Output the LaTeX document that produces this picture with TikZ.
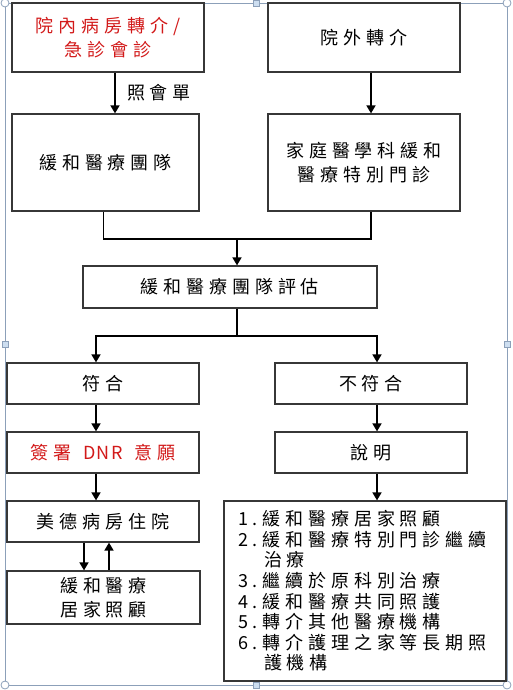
\documentclass[tikz,border=0pt]{standalone}
\usepackage{fontspec}
\newfontfamily\cjkfont[LetterSpace=27]{Noto Sans CJK TC}
\usetikzlibrary{arrows.meta}
\definecolor{framegray}{RGB}{140,160,185}
\definecolor{handleblue}{RGB}{205,222,240}
\definecolor{flowred}{RGB}{210,25,25}
\definecolor{boxgray}{RGB}{55,55,55}

\begin{document}
\begin{tikzpicture}[x=1pt,y=-1pt,
  flowbox/.style={draw=boxgray,line width=1.2pt,inner sep=0pt,align=center,
    font=\cjkfont\fontsize{18}{24}\selectfont},
  flowarrow/.style={line width=1.6pt,-{Triangle[length=8pt,width=9pt]}},
  flowline/.style={line width=1.6pt},
  handle/.style={draw=framegray,fill=white,line width=0.8pt}]
  \useasboundingbox (0,0) rectangle (513,690);

  % outer frame with its handles
  \draw[framegray,line width=0.8pt] (5,3) rectangle (507,685);
  \foreach \hx/\hy in {5/3,507/3,5/685,507/685}
    \draw[handle] (\hx,\hy) circle (4);
  \foreach \hx/\hy in {256/3,5/344,507/344,256/685}
    \draw[handle,fill=handleblue] (\hx-3,\hy-3) rectangle (\hx+3,\hy+3);

  % referral sources
  \node[flowbox,text=flowred,minimum width=192,minimum height=69] (inref) at (108,37.5)
    {院內病房轉介/\\急診會診};
  \node[flowbox,minimum width=192,minimum height=69] (outref) at (364,37.5) {院外轉介};
  \node[flowbox,minimum width=187,minimum height=97] (team) at (105.5,162.5) {緩和醫療團隊};
  \node[flowbox,minimum width=192,minimum height=97] (clinic) at (364,162.5)
    {家庭醫學科緩和\\醫療特別門診};

  \draw[flowarrow] ([xshift=7]inref.south) -- ([xshift=7]inref.south |- team.north)
    node[midway,right=8pt,font=\cjkfont\fontsize{18}{24}\selectfont] (memo) {照會單};
  \draw[flowarrow] ([xshift=7]outref.south) -- ([xshift=7]clinic.north);

  % evaluation
  \node[flowbox,minimum width=294,minimum height=42] (eval) at (230,287) {緩和醫療團隊評估};
  \coordinate (merge) at (237,239);
  \draw[flowline] ([xshift=-2]team.south) |- (merge) -| ([xshift=7]clinic.south);
  \draw[flowarrow] (merge) -- (merge |- eval.north);

  % outcome branches
  \node[flowbox,minimum width=192,minimum height=41] (fit) at (103,383.5) {符合};
  \node[flowbox,minimum width=192,minimum height=41] (unfit) at (371,383.5) {不符合};
  \node[flowbox,text=flowred,minimum width=192,minimum height=41] (dnr) at (103,452.5)
    {簽署\kern12pt{\addfontfeature{LetterSpace=8}DNR}\kern12pt意願};
  \node[flowbox,minimum width=192,minimum height=41] (explain) at (371,452.5) {說明};
  \node[flowbox,minimum width=192,minimum height=41] (ward) at (103,521.5) {美德病房住院};
  \node[flowbox,minimum width=193,minimum height=53] (homecare) at (103.5,597.5)
    {緩和醫療\\居家照顧};
  \node[flowbox,align=left,text width=254,inner xsep=14,minimum height=180,
    font=\cjkfont\fontsize{18}{20.6}\selectfont] (options) at (365,591)
    {1.緩和醫療居家照顧\\
     2.緩和醫療特別門診繼續\\
     \hspace*{26pt}治療\\
     3.繼續於原科別治療\\
     4.緩和醫療共同照護\\
     5.轉介其他醫療機構\\
     6.轉介護理之家等長期照\\
     \hspace*{26pt}護機構};

  \coordinate (split) at (237,336);
  \draw[flowline] (merge |- eval.south) -- (split);
  \draw[flowarrow] (split) -| ([xshift=-7]fit.north);
  \draw[flowarrow] (split) -| ([xshift=6]unfit.north);
  \draw[flowarrow] ([xshift=-7]fit.south) -- ([xshift=-7]dnr.north);
  \draw[flowarrow] ([xshift=6]unfit.south) -- ([xshift=6]explain.north);
  \draw[flowarrow] ([xshift=-7]dnr.south) -- ([xshift=-7]ward.north);
  \draw[flowarrow] ([xshift=6]explain.south) -- ([xshift=6]explain.south |- options.north);
  \draw[flowarrow] ([xshift=-19]ward.south) -- ([xshift=-19.5]homecare.north);
  \draw[flowarrow] ([xshift=5.5]homecare.north) -- ([xshift=6]ward.south);
\end{tikzpicture}
\end{document}
